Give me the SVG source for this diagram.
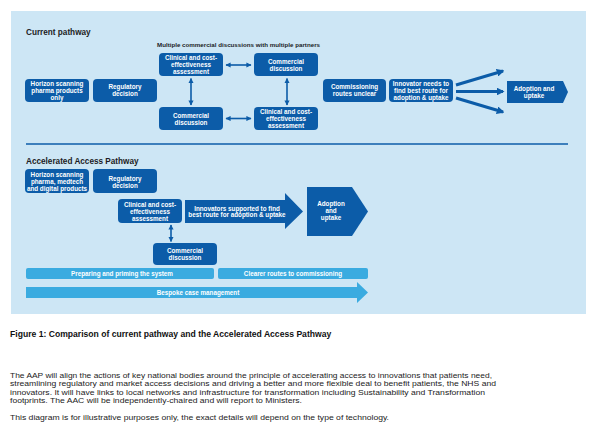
<svg xmlns="http://www.w3.org/2000/svg" width="600" height="439" viewBox="0 0 600 439">
<style>
.bg{fill:#cde6f5}
.node{fill:#0c5ca8}
.bar{fill:#3aabe0}
.nt{font-family:"Liberation Sans",Arial,sans-serif;font-size:6.3px;font-weight:bold;fill:#ffffff;text-anchor:middle}
.ttl{font-family:"Liberation Sans",Arial,sans-serif;font-size:8.2px;font-weight:bold;fill:#1c1c24}
.lbl{font-family:"Liberation Sans",Arial,sans-serif;font-size:6.2px;font-weight:bold;fill:#1c1c24}
.cap{font-family:"Liberation Sans",Arial,sans-serif;font-size:8.6px;font-weight:bold;fill:#111}
.body{font-family:"Liberation Sans",Arial,sans-serif;font-size:7.6px;fill:#222}
.dbl{fill:none;stroke:#0c5ca8;stroke-width:1.6}
.fan{fill:none;stroke:#0c5ca8;stroke-width:3}
</style>
<defs>
<marker id="ah" viewBox="0 0 10 10" refX="9" refY="5" markerWidth="3.2" markerHeight="3.2" orient="auto-start-reverse" markerUnits="strokeWidth">
<path d="M0,0 L10,5 L0,10 z" fill="#0c5ca8"/>
</marker>
<marker id="fh" viewBox="0 0 10 10" refX="8" refY="5" markerWidth="2.6" markerHeight="2.6" orient="auto" markerUnits="strokeWidth">
<path d="M0,0 L10,5 L0,10 z" fill="#0c5ca8"/>
</marker>
</defs>
<rect x="0" y="0" width="600" height="439" fill="#ffffff"/>
<rect class="bg" x="11" y="11" width="575" height="303"/>

<text class="ttl" x="26" y="35">Current pathway</text>
<text class="lbl" x="157" y="47.2">Multiple commercial discussions with multiple partners</text>
<line x1="26" y1="144" x2="568" y2="144" stroke="#0c5ca8" stroke-width="1.5"/>
<text class="ttl" x="26" y="164">Accelerated Access Pathway</text>

<g id="connectors">
<line class="dbl" x1="226" y1="65" x2="251" y2="65" marker-start="url(#ah)" marker-end="url(#ah)"/>
<line class="dbl" x1="226" y1="118.5" x2="251" y2="118.5" marker-start="url(#ah)" marker-end="url(#ah)"/>
<line class="dbl" x1="191" y1="78.5" x2="191" y2="105" marker-start="url(#ah)" marker-end="url(#ah)"/>
<line class="dbl" x1="287" y1="78.5" x2="287" y2="105" marker-start="url(#ah)" marker-end="url(#ah)"/>
<line class="fan" x1="456" y1="85" x2="503" y2="71" marker-end="url(#fh)"/>
<line class="fan" x1="456" y1="91.5" x2="503" y2="91.5" marker-end="url(#fh)"/>
<line class="fan" x1="456" y1="98" x2="503" y2="112" marker-end="url(#fh)"/>
<line class="dbl" x1="171" y1="225" x2="171" y2="241.5" marker-start="url(#ah)" marker-end="url(#ah)"/>
</g>

<g id="cp-horizon"><rect class="node" x="25" y="79" width="64" height="23" rx="4"/>
<text class="nt" x="57" y="85.5">Horizon scanning</text><text class="nt" x="57" y="92.5">pharma products</text><text class="nt" x="57" y="99.5">only</text></g>
<g id="cp-regulatory"><rect class="node" x="93" y="79" width="64" height="23" rx="4"/>
<text class="nt" x="125" y="89">Regulatory</text><text class="nt" x="125" y="96">decision</text></g>
<g id="cp-clinical1"><rect class="node" x="159" y="53" width="64" height="23" rx="4"/>
<text class="nt" x="191" y="59.7">Clinical and cost-</text><text class="nt" x="191" y="66.7">effectiveness</text><text class="nt" x="191" y="73.7">assessment</text></g>
<g id="cp-commercial1"><rect class="node" x="254" y="53" width="64" height="23" rx="4"/>
<text class="nt" x="286" y="63.5">Commercial</text><text class="nt" x="286" y="70.5">discussion</text></g>
<g id="cp-commercial2"><rect class="node" x="159" y="107" width="64" height="23" rx="4"/>
<text class="nt" x="191" y="117.5">Commercial</text><text class="nt" x="191" y="124.5">discussion</text></g>
<g id="cp-clinical2"><rect class="node" x="254" y="107" width="64" height="23" rx="4"/>
<text class="nt" x="286" y="113.7">Clinical and cost-</text><text class="nt" x="286" y="120.7">effectiveness</text><text class="nt" x="286" y="127.7">assessment</text></g>
<g id="cp-commissioning"><rect class="node" x="323" y="79" width="63" height="23" rx="4"/>
<text class="nt" x="354.5" y="89">Commissioning</text><text class="nt" x="354.5" y="96">routes unclear</text></g>
<g id="cp-innovator"><rect class="node" x="389" y="79" width="64" height="23" rx="4"/>
<text class="nt" x="421" y="85.7">Innovator needs to</text><text class="nt" x="421" y="92.7">find best route for</text><text class="nt" x="421" y="99.7">adoption &amp; uptake</text></g>
<g id="cp-adoption"><path class="node" d="M507,81 L563,81 L568,92 L563,103 L507,103 z"/>
<text class="nt" x="534" y="90.5">Adoption and</text><text class="nt" x="534" y="97.5">uptake</text></g>

<g id="aap-horizon"><rect class="node" x="25" y="169" width="64" height="24" rx="4"/>
<text class="nt" x="57" y="176.5">Horizon scanning</text><text class="nt" x="57" y="183.5">pharma, medtech</text><text class="nt" x="57" y="190.5">and digital products</text></g>
<g id="aap-regulatory"><rect class="node" x="93" y="169" width="64" height="24" rx="4"/>
<text class="nt" x="125" y="180.5">Regulatory</text><text class="nt" x="125" y="187.5">decision</text></g>
<g id="aap-clinical"><rect class="node" x="118" y="199" width="64" height="24" rx="4"/>
<text class="nt" x="150" y="207">Clinical and cost-</text><text class="nt" x="150" y="214">effectiveness</text><text class="nt" x="150" y="221">assessment</text></g>
<g id="aap-innovators"><path class="node" d="M185,200 L285,200 L285,193 L303,211.5 L285,229 L285,223 L185,223 z"/>
<text class="nt" x="237" y="210.5">Innovators supported to find</text><text class="nt" x="237" y="217.3">best route for adoption &amp; uptake</text></g>
<g id="aap-adoption"><path class="node" d="M307,187 L352,187 L368,211.5 L352,236 L307,236 z"/>
<text class="nt" x="331" y="205.7">Adoption</text><text class="nt" x="331" y="212.7">and</text><text class="nt" x="331" y="219.7">uptake</text></g>
<g id="aap-commercial"><rect class="node" x="153" y="243" width="64" height="22" rx="4"/>
<text class="nt" x="185" y="252.8">Commercial</text><text class="nt" x="185" y="259.6">discussion</text></g>
<g id="aap-preparing"><rect class="bar" x="26" y="268" width="188" height="11" rx="2"/>
<text class="nt" x="122" y="275.8">Preparing and priming the system</text></g>
<g id="aap-clearer"><rect class="bar" x="218" y="268" width="150" height="11" rx="2"/>
<text class="nt" x="293" y="275.8">Clearer routes to commissioning</text></g>
<g id="aap-bespoke"><path class="bar" d="M26,287 L357,287 L357,282 L368,292.5 L357,303 L357,298 L26,298 z"/>
<text class="nt" x="198" y="294.7">Bespoke case management</text></g>

<text class="cap" x="10" y="337">Figure 1: Comparison of current pathway and the Accelerated Access Pathway</text>
<text class="body" x="10" y="377.6" textLength="482" lengthAdjust="spacingAndGlyphs">The AAP will align the actions of key national bodies around the principle of accelerating access to innovations that patients need,</text>
<text class="body" x="10" y="386.1" textLength="486" lengthAdjust="spacingAndGlyphs">streamlining regulatory and market access decisions and driving a better and more flexible deal to benefit patients, the NHS and</text>
<text class="body" x="10" y="394.5" textLength="475" lengthAdjust="spacingAndGlyphs">innovators. It will have links to local networks and infrastructure for transformation including Sustainability and Transformation</text>
<text class="body" x="10" y="403.3" textLength="292" lengthAdjust="spacingAndGlyphs">footprints. The AAC will be independently-chaired and will report to Ministers.</text>
<text class="body" x="10" y="419.5" textLength="379" lengthAdjust="spacingAndGlyphs">This diagram is for illustrative purposes only, the exact details will depend on the type of technology.</text>
</svg>
